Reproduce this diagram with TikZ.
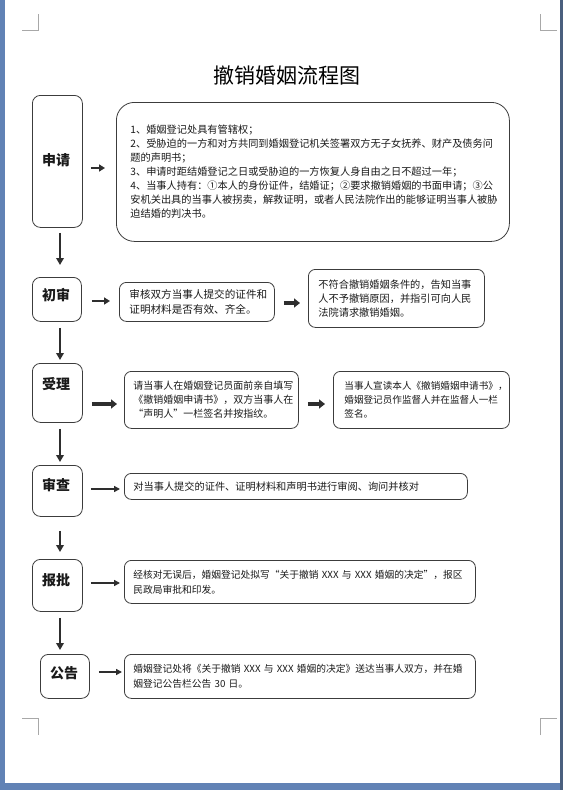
\documentclass[tikz,border=0pt]{standalone}
\usepackage{fontspec}
\newfontfamily\cjk{Noto Sans CJK SC}
\usetikzlibrary{arrows.meta}
\definecolor{pageblue}{HTML}{6182B5}
\definecolor{pageedge}{HTML}{4A5F7E}
\definecolor{boxline}{HTML}{3C3C3C}
\definecolor{arrowc}{HTML}{2E2E2E}
\definecolor{markc}{HTML}{A8A8A8}
\definecolor{txt}{HTML}{1A1A1A}
\tikzset{
  stepsq/.style={draw=boxline, line width=0.8pt, rounded corners=8pt, anchor=north west, inner sep=0pt},
  steplabel/.style={font=\cjk\bfseries\fontsize{14}{16}\selectfont, text=txt, inner sep=0pt},
  descbox/.style={draw=boxline, line width=0.8pt, rounded corners=7pt, anchor=north west,
    inner xsep=10pt, inner ysep=0pt, align=left, text=txt,
    font=\cjk\fontsize{10.2}{14}\selectfont},
  smalltext/.style={font=\cjk\fontsize{9.75}{15}\selectfont},
  varrow/.style={draw=arrowc, line width=2.6pt, -{Triangle[length=7pt,width=7.5pt]}},
  harrow/.style={draw=arrowc, line width=2.4pt, -{Triangle[length=6pt,width=7pt]}},
  hthick/.style={draw=arrowc, line width=3.6pt, -{Triangle[length=6pt,width=9pt]}},
  hthin/.style={draw=arrowc, line width=2pt, -{Triangle[length=6pt,width=6pt]}},
  cmark/.style={draw=markc, line width=0.8pt},
}
\begin{document}
\begin{tikzpicture}[x=1pt,y=-1pt]
\useasboundingbox (0,0) rectangle (563,790);
% page background
\fill[pageblue] (0,0) rectangle (563,790);
\fill[pageedge] (560,0) rectangle (563,790);
\fill[white] (5,0) rectangle (560,783);
% corner marks
\draw[cmark] (22,30) -- (38,30) -- (38,14);
\draw[cmark] (540,14) -- (540,30) -- (557,30);
\draw[cmark] (22,718) -- (38,718) -- (38,735);
\draw[cmark] (540,735) -- (540,718) -- (557,718);
% title
\node (title) at (287,75) {\cjk\fontsize{21}{23}\selectfont 撤销婚姻流程图};

% left step boxes
\node[stepsq, minimum width=50pt, minimum height=132pt] (sq1) at (32,95) {};
\node[stepsq, minimum width=49pt, minimum height=44pt] (sq2) at (32,277) {};
\node[stepsq, minimum width=50pt, minimum height=59pt] (sq3) at (32,363) {};
\node[stepsq, minimum width=50pt, minimum height=51pt] (sq4) at (32,465) {};
\node[stepsq, minimum width=50pt, minimum height=52pt] (sq5) at (32,559) {};
\node[stepsq, minimum width=49pt, minimum height=44pt] (sq6) at (40,654) {};

\node[steplabel] (l1) at (56,160) {申请};
\node[steplabel] (l2) at (56,295) {初审};
\node[steplabel] (l3) at (56,384) {受理};
\node[steplabel] (l4) at (56,485) {审查};
\node[steplabel] (l5) at (56,580) {报批};
\node[steplabel] (l6) at (64,673) {公告};

% description boxes
\node[descbox, rounded corners=18pt, inner xsep=14pt, minimum width=393pt, minimum height=139pt, text width=365pt] (b1) at (116,102) {%
1、婚姻登记处具有管辖权；\\
2、受胁迫的一方和对方共同到婚姻登记机关签署双方无子女抚养、财产及债务问\\
题的声明书；\\
3、申请时距结婚登记之日或受胁迫的一方恢复人身自由之日不超过一年；\\
4、当事人持有：①本人的身份证件，结婚证；②要求撤销婚姻的书面申请；③公\\
安机关出具的当事人被拐卖，解救证明，或者人民法院作出的能够证明当事人被胁\\
迫结婚的判决书。};

\node[descbox, font=\cjk\fontsize{10.6}{14.5}\selectfont, minimum width=155pt, minimum height=39pt, text width=135pt] (b2a) at (119,282) {%
审核双方当事人提交的证件和\\证明材料是否有效、齐全。};
\node[descbox, minimum width=176pt, minimum height=58pt, text width=156pt] (b2b) at (308,269) {%
不符合撤销婚姻条件的，告知当事\\人不予撤销原因，并指引可向人民\\法院请求撤销婚姻。};

\node[descbox, font=\cjk\fontsize{10}{14}\selectfont, inner xsep=9pt, minimum width=174pt, minimum height=57pt, text width=156pt] (b3a) at (124,371) {%
请当事人在婚姻登记员面前亲自填写\\《撤销婚姻申请书》，双方当事人在\\“声明人”一栏签名并按指纹。};
\node[descbox, font=\cjk\fontsize{9.6}{14}\selectfont, inner xsep=11pt, minimum width=176pt, minimum height=57pt, text width=154pt] (b3b) at (333,371) {%
当事人宣读本人《撤销婚姻申请书》，\\婚姻登记员作监督人并在监督人一栏\\签名。};

\node[descbox, inner xsep=9pt, minimum width=343pt, minimum height=26pt, text width=325pt] (b4a) at (124,473) {%
对当事人提交的证件、证明材料和声明书进行审阅、询问并核对};

\node[descbox, smalltext, inner xsep=9pt, minimum width=351pt, minimum height=43pt, text width=333pt] (b5a) at (124,560) {%
经核对无误后，婚姻登记处拟写“关于撤销~XXX~与~XXX~婚姻的决定”，报区\\民政局审批和印发。};

\node[descbox, smalltext, inner xsep=9pt, minimum width=351pt, minimum height=44pt, text width=333pt] (b6a) at (124,654) {%
婚姻登记处将《关于撤销~XXX~与~XXX~婚姻的决定》送达当事人双方，并在婚\\姻登记公告栏公告~30~日。};

% vertical arrows
\coordinate (vx) at (60,0);
\draw[varrow, shorten <=5pt, shorten >=12pt] (sq1.south -| vx) -- (sq2.north -| vx);
\draw[varrow, shorten <=6pt, shorten >=3pt] (sq2.south -| vx) -- (sq3.north -| vx);
\draw[varrow, shorten <=6pt, shorten >=3pt] (sq3.south -| vx) -- (sq4.north -| vx);
\draw[varrow, shorten <=14pt, shorten >=7pt] (sq4.south -| vx) -- (sq5.north -| vx);
\draw[varrow, shorten <=6pt, shorten >=4pt] (sq5.south -| vx) -- (sq6.north -| vx);

% horizontal arrows
\coordinate (h1) at (0,168);
\coordinate (h2) at (0,301);
\coordinate (h2b) at (0,303);
\coordinate (h3) at (0,404);
\coordinate (h4) at (0,489);
\coordinate (h5) at (0,583);
\coordinate (h6) at (0,672);
\draw[harrow, shorten <=8pt, shorten >=11pt] (sq1.east |- h1) -- (b1.west |- h1);
\draw[harrow, shorten <=10pt, shorten >=9pt] (sq2.east |- h2) -- (b2a.west |- h2);
\draw[hthick, shorten <=9pt, shorten >=8pt] (b2a.east |- h2b) -- (b2b.west |- h2b);
\draw[hthick, shorten <=9pt, shorten >=7pt] (sq3.east |- h3) -- (b3a.west |- h3);
\draw[hthick, shorten <=9pt, shorten >=8pt] (b3a.east |- h3) -- (b3b.west |- h3);
\draw[hthin, shorten <=8pt, shorten >=4pt] (sq4.east |- h4) -- (b4a.west |- h4);
\draw[hthin, shorten <=8pt, shorten >=4pt] (sq5.east |- h5) -- (b5a.west |- h5);
\draw[hthin, shorten <=9pt, shorten >=2pt] (sq6.east |- h6) -- (b6a.west |- h6);
\end{tikzpicture}
\end{document}
